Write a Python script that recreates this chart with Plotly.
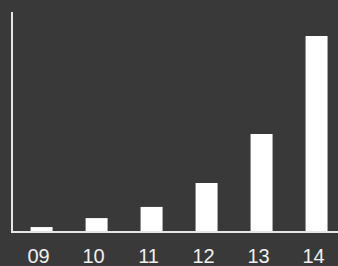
import plotly.graph_objects as go

categories = ["09", "10", "11", "12", "13", "14"]
values = [1.8, 5.9, 11.0, 21.9, 44.3, 89.0]

positions = list(range(len(categories)))

fig = go.Figure(go.Bar(x=positions, y=values, marker=dict(color="#ffffff", line=dict(width=0)),
                       width=0.4))
fig.update_layout(
    width=338, height=266,
    margin=dict(l=13, r=0, t=12, b=35),
    paper_bgcolor="#393939", plot_bgcolor="#393939",
    showlegend=False,
    font=dict(family="Liberation Sans, Arial, sans-serif", color="#f0f0f0", size=20),
)
fig.update_xaxes(range=[-0.52, 5.39], tickvals=positions, ticktext=categories,
                 showgrid=False, zeroline=False, showline=True, linecolor="#e6e6e6", linewidth=2,
                 ticks="", ticklabelstandoff=6, ticklabelshift=-3)
fig.update_yaxes(range=[0, 100], showticklabels=False, showgrid=False, zeroline=False,
                 showline=True, linecolor="#e6e6e6", linewidth=2)
fig.write_html("out.html", config={"displayModeBar": False},
               post_script="document.body.style.margin='0';document.body.style.overflow='hidden';document.body.style.background='#393939';")
